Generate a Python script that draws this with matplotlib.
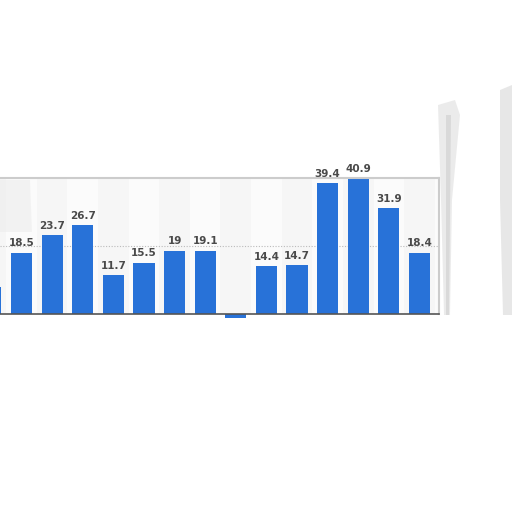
import numpy as np
import matplotlib.pyplot as plt
from matplotlib.patches import Polygon

# values (first bar is cut off at the left edge)
positions = [-1, 0, 1, 2, 3, 4, 5, 6, 7, 8, 9, 10, 11, 12, 13]
values = [8.2, 18.5, 23.7, 26.7, 11.7, 15.5, 19, 19.1, -1.2, 14.4, 14.7, 39.4, 40.9, 31.9, 18.4]
labels = ["", "18.5", "23.7", "26.7", "11.7", "15.5", "19", "19.1", "", "14.4", "14.7",
          "39.4", "40.9", "31.9", "18.4"]

fig = plt.figure(figsize=(5.12, 5.12), dpi=100)
fig.patch.set_facecolor("white")

ax = fig.add_axes([0, 198 / 512, 439 / 512, 136 / 512])
ax.set_facecolor("#f6f6f6")

# alternating light stripes behind the bars
for i in range(-1, 15):
    if i % 2 == 0:
        ax.axvspan(i - 0.5, i + 0.5, color="white", alpha=0.6, lw=0, zorder=0)

ax.axhline(20.5, color="#bbbbbb", lw=0.8, ls=(0, (1, 1.5)), zorder=1)

bars = ax.bar(positions, values, width=0.69, color="#2872d8", zorder=2, clip_on=False)
for b, v, lab in zip(bars, values, labels):
    if lab:
        ax.text(b.get_x() + b.get_width() / 2, v + 1.4, lab, ha="center", va="bottom",
                fontsize=7.5, fontweight="bold", color="#4a4a4a", zorder=3, clip_on=False)

ax.set_xlim(-0.703, 13.64)
ax.set_ylim(0, 41)
ax.set_xticks([])
ax.set_yticks([])
ax.spines["left"].set_visible(False)
ax.spines["top"].set_color("#cccccc")
ax.spines["top"].set_linewidth(1.5)
ax.spines["right"].set_color("#cccccc")
ax.spines["right"].set_linewidth(1.5)
ax.spines["bottom"].set_color("#555555")
ax.spines["bottom"].set_linewidth(1.2)

# faint grey ghost shapes on the right side of the picture
def ghost(pts, color, alpha):
    pts = [(x / 512, 1 - y / 512) for x, y in pts]
    fig.patches.append(Polygon(pts, closed=True, transform=fig.transFigure,
                               facecolor=color, edgecolor="none", alpha=alpha))

ghost([(438, 105), (455, 100), (460, 115), (452, 200), (450, 315), (444, 315), (441, 200)], "#d4d4d4", 0.45)
ghost([(446, 115), (451, 115), (449, 315), (446, 315)], "#b8b8b8", 0.35)
ghost([(500, 90), (512, 85), (512, 315), (503, 315), (500, 200)], "#d0d0d0", 0.5)
ghost([(0, 180), (30, 180), (32, 232), (0, 232)], "#ebebeb", 0.5)

fig.savefig("out.png", dpi=100, facecolor="white")
